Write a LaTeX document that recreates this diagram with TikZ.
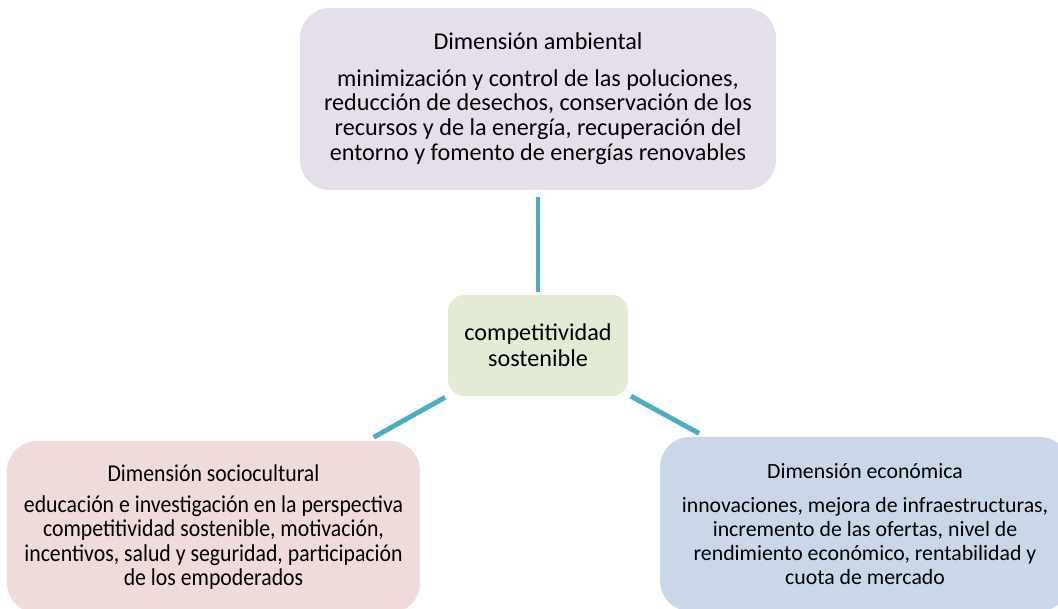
\documentclass[tikz,border=0pt]{standalone}
\usepackage{fontspec}
\setmainfont{Carlito}
\usepackage{tikz}

\definecolor{ambcol}{HTML}{E5DFEC}
\definecolor{compcol}{HTML}{E3EBD4}
\definecolor{sociocol}{HTML}{F0DBDB}
\definecolor{ecocol}{HTML}{CAD7E8}
\definecolor{linecol}{HTML}{4BACC6}

\tikzset{
    dimbox/.style={rounded corners=.75cm, align=center, inner sep=0pt,
        font=\fontsize{17.2}{17.7}\selectfont},
    conn/.style={linecol, line width=3.5pt, shorten <=.075cm, shorten >=.175cm}
}

\begin{document}
\begin{tikzpicture}
        \clip (0,0) rectangle (26.45,15.225);
        % 中心
        \node[dimbox, fill=compcol, rounded corners=.4cm, minimum width=4.5cm, minimum height=2.525cm,
            font=\fontsize{17.2}{18.4}\selectfont]
            (comp) at(13.45,6.5875) {competitividad\\sostenible};
        % 环境维度
        \node[dimbox, fill=ambcol, minimum width=11.9cm, minimum height=4.55cm]
            (amb) at(13.45,12.75) {Dimensión ambiental\\[8pt]
            minimización y control de las poluciones,\\
            reducción de desechos, conservación de los\\
            recursos y de la energía, recuperación del\\
            entorno y fomento de energías renovables};
        % 社会文化维度
        \node[dimbox, fill=sociocol, minimum width=10.325cm, minimum height=4.3cm,
            font=\fontsize{17.2}{17.3}\selectfont\addfontfeature{FakeStretch=0.9}]
            (socio) at(5.3375,2.05) {Dimensión sociocultural\\[5pt]
            educación e investigación en la perspectiva\\
            competitividad sostenible, motivación,\\
            incentivos, salud y seguridad, participación\\
            de los empoderados};
        % 经济维度
        \node[dimbox, fill=ecocol, minimum width=10.25cm, minimum height=4.35cm,
            font=\fontsize{15.5}{17.1}\selectfont]
            (eco) at(21.625,2.125) {Dimensión económica\\[7pt]
            innovaciones, mejora de infraestructuras,\\
            incremento de las ofertas, nivel de\\
            rendimiento económico, rentabilidad y\\
            cuota de mercado};
        % 连线
        \draw[conn] (comp) -- (amb);
        \draw[conn] (comp) -- (socio);
        \draw[conn] (comp) -- (eco);
\end{tikzpicture}
\end{document}
